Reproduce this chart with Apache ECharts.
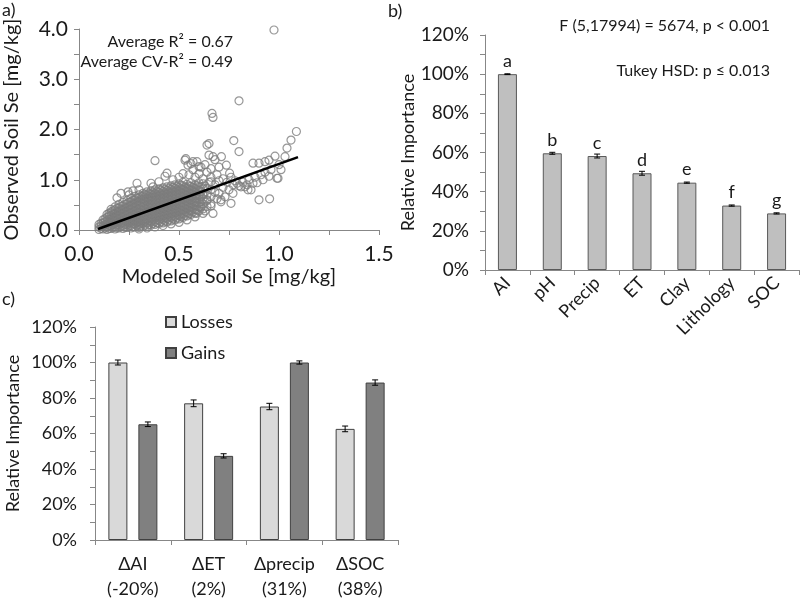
<!DOCTYPE html>
<html>
<head>
<meta charset="utf-8">
<script src="https://cdn.jsdelivr.net/npm/echarts@6/dist/echarts.min.js"></script>
<style>html,body{margin:0;padding:0;background:#fff}#c{width:802px;height:602px}</style>
</head>
<body>
<div id="c"></div>
<script>
// ---------- Panel a: observed vs modeled (hand-read estimates) ----------
const scatterCore = [
[0.10,0.01],[0.10,0.06],[0.10,0.11],
[0.12,0.02],[0.12,0.08],[0.12,0.14],[0.12,0.20],
[0.14,0.01],[0.14,0.06],[0.14,0.12],[0.14,0.18],[0.14,0.25],[0.14,0.31],
[0.16,0.03],[0.16,0.09],[0.16,0.15],[0.16,0.22],[0.16,0.29],[0.16,0.36],[0.16,0.41],
[0.18,0.02],[0.18,0.07],[0.18,0.13],[0.18,0.19],[0.18,0.26],[0.18,0.33],[0.18,0.40],[0.18,0.46],
[0.20,0.04],[0.20,0.10],[0.20,0.16],[0.20,0.23],[0.20,0.30],[0.20,0.37],[0.20,0.44],[0.20,0.51],
[0.22,0.03],[0.22,0.08],[0.22,0.14],[0.22,0.20],[0.22,0.27],[0.22,0.34],[0.22,0.41],[0.22,0.48],[0.22,0.55],
[0.24,0.05],[0.24,0.11],[0.24,0.17],[0.24,0.24],[0.24,0.31],[0.24,0.38],[0.24,0.45],[0.24,0.52],[0.24,0.59],
[0.26,0.04],[0.26,0.09],[0.26,0.15],[0.26,0.21],[0.26,0.28],[0.26,0.35],[0.26,0.42],[0.26,0.49],[0.26,0.56],[0.26,0.63],
[0.28,0.06],[0.28,0.12],[0.28,0.18],[0.28,0.25],[0.28,0.32],[0.28,0.39],[0.28,0.46],[0.28,0.53],[0.28,0.60],[0.28,0.67],
[0.30,0.05],[0.30,0.10],[0.30,0.16],[0.30,0.22],[0.30,0.29],[0.30,0.36],[0.30,0.43],[0.30,0.50],[0.30,0.57],[0.30,0.64],[0.30,0.70],
[0.32,0.07],[0.32,0.13],[0.32,0.19],[0.32,0.26],[0.32,0.33],[0.32,0.40],[0.32,0.47],[0.32,0.54],[0.32,0.61],[0.32,0.68],[0.32,0.73],
[0.34,0.08],[0.34,0.14],[0.34,0.21],[0.34,0.28],[0.34,0.35],[0.34,0.42],[0.34,0.49],[0.34,0.56],[0.34,0.63],[0.34,0.70],[0.34,0.76],
[0.36,0.10],[0.36,0.16],[0.36,0.23],[0.36,0.30],[0.36,0.37],[0.36,0.44],[0.36,0.51],[0.36,0.58],[0.36,0.65],[0.36,0.72],[0.36,0.78],
[0.38,0.11],[0.38,0.17],[0.38,0.24],[0.38,0.31],[0.38,0.38],[0.38,0.45],[0.38,0.52],[0.38,0.59],[0.38,0.66],[0.38,0.73],[0.38,0.80],
[0.40,0.13],[0.40,0.19],[0.40,0.26],[0.40,0.33],[0.40,0.40],[0.40,0.47],[0.40,0.54],[0.40,0.61],[0.40,0.68],[0.40,0.75],[0.40,0.82],
[0.42,0.14],[0.42,0.21],[0.42,0.28],[0.42,0.35],[0.42,0.42],[0.42,0.49],[0.42,0.56],[0.42,0.63],[0.42,0.70],[0.42,0.77],[0.42,0.84],
[0.44,0.16],[0.44,0.23],[0.44,0.30],[0.44,0.37],[0.44,0.44],[0.44,0.51],[0.44,0.58],[0.44,0.65],[0.44,0.72],[0.44,0.79],[0.44,0.86],
[0.46,0.18],[0.46,0.25],[0.46,0.32],[0.46,0.39],[0.46,0.46],[0.46,0.53],[0.46,0.60],[0.46,0.67],[0.46,0.74],[0.46,0.81],[0.46,0.88],
[0.48,0.20],[0.48,0.27],[0.48,0.34],[0.48,0.41],[0.48,0.48],[0.48,0.55],[0.48,0.62],[0.48,0.69],[0.48,0.76],[0.48,0.83],[0.48,0.90],
[0.50,0.22],[0.50,0.29],[0.50,0.36],[0.50,0.43],[0.50,0.50],[0.50,0.57],[0.50,0.64],[0.50,0.71],[0.50,0.78],[0.50,0.85],[0.50,0.92],
[0.52,0.25],[0.52,0.32],[0.52,0.39],[0.52,0.46],[0.52,0.53],[0.52,0.60],[0.52,0.67],[0.52,0.74],[0.52,0.81],[0.52,0.88],[0.52,0.95],
[0.54,0.28],[0.54,0.35],[0.54,0.42],[0.54,0.49],[0.54,0.56],[0.54,0.63],[0.54,0.70],[0.54,0.77],[0.54,0.84],[0.54,0.91],
[0.56,0.31],[0.56,0.38],[0.56,0.45],[0.56,0.52],[0.56,0.59],[0.56,0.66],[0.56,0.73],[0.56,0.80],[0.56,0.87],[0.56,0.94],
[0.58,0.34],[0.58,0.41],[0.58,0.48],[0.58,0.55],[0.58,0.62],[0.58,0.69],[0.58,0.76],[0.58,0.83],[0.58,0.90],
[0.60,0.38],[0.60,0.46],[0.60,0.54],[0.60,0.62],[0.60,0.70],[0.60,0.78],[0.60,0.86],[0.60,0.94],
[0.62,0.42],[0.62,0.52],[0.62,0.62],[0.62,0.72],[0.62,0.82],[0.62,0.92],
[0.64,0.47],[0.64,0.58],[0.64,0.70],[0.64,0.83],
[0.66,0.52],[0.66,0.66],[0.66,0.80],[0.66,0.96]
];
const scatterCoreB = [
[0.11,0.03],[0.11,0.08],[0.11,0.13],
[0.13,0.04],[0.13,0.10],[0.13,0.16],[0.13,0.22],
[0.15,0.03],[0.15,0.09],[0.15,0.15],[0.15,0.21],[0.15,0.28],[0.15,0.33],
[0.17,0.05],[0.17,0.11],[0.17,0.18],[0.17,0.25],[0.17,0.32],[0.17,0.38],
[0.19,0.04],[0.19,0.10],[0.19,0.16],[0.19,0.22],[0.19,0.29],[0.19,0.36],[0.19,0.43],
[0.21,0.07],[0.21,0.13],[0.21,0.19],[0.21,0.26],[0.21,0.33],[0.21,0.40],[0.21,0.47],
[0.23,0.05],[0.23,0.11],[0.23,0.17],[0.23,0.23],[0.23,0.30],[0.23,0.37],[0.23,0.44],[0.23,0.51],
[0.25,0.08],[0.25,0.14],[0.25,0.20],[0.25,0.27],[0.25,0.34],[0.25,0.41],[0.25,0.48],[0.25,0.55],
[0.27,0.06],[0.27,0.12],[0.27,0.18],[0.27,0.24],[0.27,0.31],[0.27,0.38],[0.27,0.45],[0.27,0.52],[0.27,0.59],
[0.29,0.09],[0.29,0.15],[0.29,0.21],[0.29,0.28],[0.29,0.35],[0.29,0.42],[0.29,0.49],[0.29,0.56],[0.29,0.63],
[0.31,0.08],[0.31,0.13],[0.31,0.19],[0.31,0.26],[0.31,0.33],[0.31,0.40],[0.31,0.47],[0.31,0.54],[0.31,0.61],[0.31,0.67],
[0.33,0.10],[0.33,0.16],[0.33,0.23],[0.33,0.30],[0.33,0.37],[0.33,0.44],[0.33,0.51],[0.33,0.58],[0.33,0.65],[0.33,0.71],
[0.35,0.11],[0.35,0.18],[0.35,0.25],[0.35,0.32],[0.35,0.39],[0.35,0.46],[0.35,0.53],[0.35,0.60],[0.35,0.67],[0.35,0.73],
[0.37,0.13],[0.37,0.20],[0.37,0.27],[0.37,0.34],[0.37,0.41],[0.37,0.48],[0.37,0.55],[0.37,0.62],[0.37,0.69],[0.37,0.75],
[0.39,0.14],[0.39,0.21],[0.39,0.28],[0.39,0.35],[0.39,0.42],[0.39,0.49],[0.39,0.56],[0.39,0.63],[0.39,0.70],[0.39,0.77],
[0.41,0.16],[0.41,0.23],[0.41,0.30],[0.41,0.37],[0.41,0.44],[0.41,0.51],[0.41,0.58],[0.41,0.65],[0.41,0.72],[0.41,0.79],
[0.43,0.18],[0.43,0.25],[0.43,0.32],[0.43,0.39],[0.43,0.46],[0.43,0.53],[0.43,0.60],[0.43,0.67],[0.43,0.74],[0.43,0.81],
[0.45,0.20],[0.45,0.27],[0.45,0.34],[0.45,0.41],[0.45,0.48],[0.45,0.55],[0.45,0.62],[0.45,0.69],[0.45,0.76],[0.45,0.83],
[0.47,0.22],[0.47,0.29],[0.47,0.36],[0.47,0.43],[0.47,0.50],[0.47,0.57],[0.47,0.64],[0.47,0.71],[0.47,0.78],[0.47,0.85],
[0.49,0.24],[0.49,0.31],[0.49,0.38],[0.49,0.45],[0.49,0.52],[0.49,0.59],[0.49,0.66],[0.49,0.73],[0.49,0.80],[0.49,0.87],
[0.51,0.26],[0.51,0.33],[0.51,0.40],[0.51,0.47],[0.51,0.54],[0.51,0.61],[0.51,0.68],[0.51,0.75],[0.51,0.82],[0.51,0.89],
[0.53,0.29],[0.53,0.36],[0.53,0.43],[0.53,0.50],[0.53,0.57],[0.53,0.64],[0.53,0.71],[0.53,0.78],[0.53,0.85],
[0.55,0.32],[0.55,0.39],[0.55,0.46],[0.55,0.53],[0.55,0.60],[0.55,0.67],[0.55,0.74],[0.55,0.81],[0.55,0.88],
[0.57,0.36],[0.57,0.43],[0.57,0.50],[0.57,0.57],[0.57,0.64],[0.57,0.71],[0.57,0.78],[0.57,0.85],
[0.59,0.40],[0.59,0.48],[0.59,0.56],[0.59,0.64],[0.59,0.72],[0.59,0.80],[0.59,0.88],
[0.61,0.46],[0.61,0.56],[0.61,0.66],[0.61,0.76],[0.61,0.86]
];
const scatterFringe = [
[0.30,0.02],[0.34,0.04],[0.38,0.06],[0.42,0.09],[0.46,0.12],[0.50,0.15],[0.54,0.20],[0.58,0.26],[0.62,0.33],
[0.19,0.64],[0.21,0.73],[0.245,0.76],[0.27,0.78],[0.25,0.70],[0.29,0.93],[0.30,0.80],[0.37,0.86],[0.36,0.93],
[0.40,0.96],[0.43,1.07],[0.44,1.13],[0.47,1.00],[0.50,1.05],[0.52,1.12],[0.55,1.10],[0.58,1.05],[0.60,1.12],
[0.53,1.39],[0.545,1.29],[0.56,1.32],[0.534,1.42],[0.57,1.36],[0.60,1.26],[0.59,1.36],[0.62,1.02],[0.64,1.15],
[0.62,0.70],[0.63,0.88],[0.65,0.95],[0.66,1.05],[0.68,0.90],[0.68,0.75],[0.69,1.10],[0.70,0.98],[0.72,0.85],
[0.72,1.02],[0.73,0.66],[0.74,0.95],[0.75,0.80],[0.76,1.05],[0.77,0.90],[0.78,0.98],[0.80,0.88],[0.82,0.95],
[0.84,0.90],[0.85,1.00],[0.88,1.05],[0.66,1.22],[0.70,1.25],[0.63,1.30],[0.61,1.25],[0.57,1.20],[0.68,1.40],
[0.91,1.10],[0.93,1.15],[0.96,1.20],[0.92,1.00],[1.00,1.30],[1.01,1.20],[0.58,0.55],[0.61,0.45],[0.66,0.48],
[0.69,0.62],[0.63,0.38],[0.587,0.33],[0.64,0.60],[0.71,0.60],[0.77,0.73],[0.845,0.80],[0.953,0.62],[0.995,1.03]
];
const scatterOutliers = [
[0.975,3.98],[0.80,2.57],[0.665,2.32],[0.67,2.24],[1.087,1.96],[1.06,1.79],[1.04,1.63],[0.774,1.78],[0.80,1.56],
[0.65,1.72],[0.64,1.69],[1.03,1.46],[0.98,1.47],[0.95,1.39],[0.93,1.36],[0.90,1.33],[0.87,1.33],[0.712,1.46],
[0.737,1.29],[0.65,1.49],[0.67,1.46],[0.753,1.13],[0.99,1.03],[0.95,1.07],[0.89,0.94],[0.90,0.60],[0.76,0.53],
[0.67,0.33],[0.86,0.80],[0.87,0.93],[0.83,0.86],[0.81,0.86],[0.79,0.93],[0.71,0.56],[0.70,0.73],[0.38,1.38]
];
const fitLine = [[0.095,0.02],[1.095,1.45]];
const r2Text = ['Average R\u00b2 = 0.67', 'Average CV-R\u00b2 = 0.49'];

// ---------- Panel b ----------
const catsB = ['AI','pH','Precip','ET','Clay','Lithology','SOC'];
const valsB = [100, 59.6, 58.2, 49.4, 44.6, 32.9, 28.9];
const errB  = [0.2, 0.5, 1.0, 1.0, 0.3, 0.3, 0.3];
const lettersB = ['a','b','c','d','e','f','g'];
const statTextB = ['F (5,17994) = 5674, p < 0.001', 'Tukey HSD: p \u2264 0.013'];

// ---------- Panel c ----------
const catsC = ['\u0394AI\n(-20%)','\u0394ET\n(2%)','\u0394precip\n(31%)','\u0394SOC\n(38%)'];
const lossesC = [100, 77.0, 75.2, 62.6];
const lossesErr = [1.4, 1.9, 1.8, 1.6];
const gainsC = [65.2, 47.4, 100, 88.7];
const gainsErr = [1.3, 1.2, 0.9, 1.5];

const FONT = 'Lato';
const TXT = '#1a1a1a';
const AX = '#878787';
const BARW = 19, GAPPX = 11;

function errRender(offset){
  return function(params, api){
    const ci = api.value(0), v = api.value(1), e = api.value(2);
    const t = api.coord([ci, v + e]), b = api.coord([ci, v - e]);
    const x = t[0] + offset, hw = 3;
    const st = {stroke:'#000', lineWidth:1};
    return {type:'group', children:[
      {type:'line', shape:{x1:x,y1:t[1],x2:x,y2:b[1]}, style:st},
      {type:'line', shape:{x1:x-hw,y1:t[1],x2:x+hw,y2:t[1]}, style:st},
      {type:'line', shape:{x1:x-hw,y1:b[1],x2:x+hw,y2:b[1]}, style:st}
    ]};
  };
}
const axisCommon = {
  axisLine:{show:true, lineStyle:{color:AX, width:1}},
  axisTick:{show:true, inside:false, length:5, lineStyle:{color:AX}},
  splitLine:{show:false},
  nameTextStyle:{fontFamily:FONT, fontSize:18, color:TXT},
};
const lbl = (extra) => Object.assign({fontFamily:FONT, fontSize:18, color:TXT}, extra||{});
const pct = v => (Math.round(v) % 20 === 0) ? Math.round(v) + '%' : '';

const chart = echarts.init(document.getElementById('c'), null, {renderer:'canvas'});
chart.setOption({
  animation:false,
  backgroundColor:'#fff',
  textStyle:{fontFamily:FONT},
  grid:[
    {left:79, top:29, width:300, height:201},
    {left:485, top:35, width:314, height:235},
    {left:95, top:327, width:303, height:215}
  ],
  legend:{
    data:['Losses','Gains'], orient:'vertical', left:165, top:313,
    itemWidth:10, itemHeight:10, itemGap:13, icon:'rect',
    textStyle:{fontFamily:FONT, fontSize:18, color:TXT}, padding:0
  },
  xAxis:[
    Object.assign({}, axisCommon, {gridIndex:0, type:'value', min:0, max:1.5, interval:0.25,
      name:'Modeled Soil Se [mg/kg]', nameLocation:'middle', nameGap:37,
      nameTextStyle:{fontFamily:FONT, fontSize:20, color:TXT},
      axisLabel:lbl({fontSize:21, margin:14, formatter:v => (Math.abs(v*2 - Math.round(v*2)) < 1e-6) ? v.toFixed(1) : ''})}),
    Object.assign({}, axisCommon, {gridIndex:1, type:'category', data:catsB,
      axisLabel:lbl({rotate:45, margin:10, interval:0})}),
    Object.assign({}, axisCommon, {gridIndex:2, type:'category', data:catsC,
      axisLabel:lbl({margin:12, lineHeight:25, interval:0})})
  ],
  yAxis:[
    Object.assign({}, axisCommon, {gridIndex:0, type:'value', min:0, max:4, interval:0.5,
      name:'Observed Soil Se [mg/kg]', nameLocation:'middle', nameGap:57,
      nameTextStyle:{fontFamily:FONT, fontSize:20, color:TXT},
      axisLabel:lbl({fontSize:21, margin:11, formatter:v => (Math.abs(v - Math.round(v)) < 1e-6) ? v.toFixed(1) : ''})}),
    Object.assign({}, axisCommon, {gridIndex:1, type:'value', min:0, max:120, interval:10,
      name:'Relative Importance', nameLocation:'middle', nameGap:68,
      axisLabel:lbl({fontSize:19, margin:16, formatter:pct})}),
    Object.assign({}, axisCommon, {gridIndex:2, type:'value', min:0, max:120, interval:10,
      name:'Relative Importance', nameLocation:'middle', nameGap:73,
      axisLabel:lbl({margin:18, formatter:pct})})
  ],
  series:[
    {type:'scatter', xAxisIndex:0, yAxisIndex:0, symbol:'circle', symbolSize:8, silent:true,
      data: scatterCore.concat(scatterCoreB, scatterFringe, scatterOutliers),
      itemStyle:{color:'rgba(0,0,0,0)', borderColor:'#7d7d7d', borderWidth:1.2}},
    {type:'line', xAxisIndex:0, yAxisIndex:0, data:fitLine, symbol:'none', silent:true,
      lineStyle:{color:'#000', width:2.5}},
    {type:'bar', xAxisIndex:1, yAxisIndex:1, data:valsB, barWidth:BARW,
      itemStyle:{color:'#bfbfbf', borderColor:'#595959', borderWidth:1},
      label:{show:true, position:'top', distance:4, fontFamily:FONT, fontSize:18, color:TXT,
        formatter:p => lettersB[p.dataIndex]}},
    {type:'custom', xAxisIndex:1, yAxisIndex:1, renderItem:errRender(0), silent:true,
      data: valsB.map((v,i)=>[i, v, errB[i]]), z:5},
    {type:'bar', name:'Losses', xAxisIndex:2, yAxisIndex:2, data:lossesC, barWidth:BARW, barGap:(GAPPX/BARW*100)+'%',
      itemStyle:{color:'#d9d9d9', borderColor:'#404040', borderWidth:1}},
    {type:'bar', name:'Gains', xAxisIndex:2, yAxisIndex:2, data:gainsC, barWidth:BARW, barGap:(GAPPX/BARW*100)+'%',
      itemStyle:{color:'#808080', borderColor:'#404040', borderWidth:1}},
    {type:'custom', xAxisIndex:2, yAxisIndex:2, renderItem:errRender(-(BARW+GAPPX)/2), silent:true,
      data: lossesC.map((v,i)=>[i, v, lossesErr[i]]), z:5},
    {type:'custom', xAxisIndex:2, yAxisIndex:2, renderItem:errRender((BARW+GAPPX)/2), silent:true,
      data: gainsC.map((v,i)=>[i, v, gainsErr[i]]), z:5}
  ],
  graphic:[
    {type:'text', left:2, top:1, style:{text:'a)', font:'18px '+FONT, fill:TXT}},
    {type:'text', left:388, top:2, style:{text:'b)', font:'18px '+FONT, fill:TXT}},
    {type:'text', left:2, top:290, style:{text:'c)', font:'18px '+FONT, fill:TXT}},
    {type:'text', right:569, top:34, style:{text:r2Text[0], font:'16px '+FONT, fill:TXT, textAlign:'right'}},
    {type:'text', right:569, top:54, style:{text:r2Text[1], font:'16px '+FONT, fill:TXT, textAlign:'right'}},
    {type:'text', right:32, top:18, style:{text:statTextB[0], font:'16px '+FONT, fill:TXT, textAlign:'right'}},
    {type:'text', right:32, top:63, style:{text:statTextB[1], font:'16px '+FONT, fill:TXT, textAlign:'right'}}
  ]
});
</script>
</body>
</html>
